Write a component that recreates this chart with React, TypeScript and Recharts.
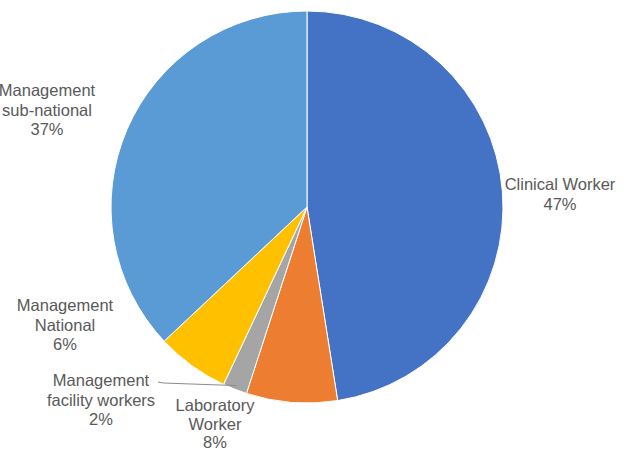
import { PieChart, Pie, Cell } from "recharts";

// slices clockwise from 12 o'clock
const categories = [
  "Clinical Worker",
  "Laboratory Worker",
  "Management facility workers",
  "Management National",
  "Management sub-national",
];
const shares = [47.5, 7.5, 2, 6, 37];
const labelLines = [
  ["Clinical Worker", "47%"],
  ["Laboratory", "Worker", "8%"],
  ["Management", "facility workers", "2%"],
  ["Management", "National", "6%"],
  ["Management", "sub-national", "37%"],
];

const COLORS = ["#4472C4", "#ED7D31", "#A5A5A5", "#FFC000", "#5B9BD5"];

// label block centre (first line) relative to pie centre
const LABEL_POS = [
  { dx: 253, dy: -23 },
  { dx: -92, dy: 198 },
  { dx: -206, dy: 173 },
  { dx: -242, dy: 98 },
  { dx: -260, dy: -117 },
];

const data = categories.map((name, i) => ({ name, value: shares[i] }));

const CX = 307;
const CY = 207;
const R = 196;
const LINE_H = 19.5;
const RAD = Math.PI / 180;

// eslint-disable-next-line @typescript-eslint/no-explicit-any
function renderLabel(props: any) {
  const { index, midAngle, cx, cy, outerRadius } = props;
  const pos = LABEL_POS[index];
  const x = cx + pos.dx;
  const y = cy + pos.dy;
  const lines = labelLines[index];
  const lh = index === 1 ? 18.5 : LINE_H;
  let leader = null;
  if (index === 2) {
    const ex = cx + outerRadius * 0.98 * Math.cos(-midAngle * RAD);
    const ey = cy + outerRadius * 0.98 * Math.sin(-midAngle * RAD);
    leader = (
      <polyline
        points={`${x + 57},${y + 2} ${x + 62},${y + 3} ${ex},${ey}`}
        fill="none"
        stroke="#8c8c8c"
        strokeWidth={1}
      />
    );
  }
  return (
    <g key={`lbl-${index}`}>
      {leader}
      <text
        x={x}
        y={y}
        textAnchor="middle"
        dominantBaseline="central"
        fill="#595959"
        fontSize={16.5}
        fontFamily="'Liberation Sans', Arial, sans-serif"
      >
        {lines.map((l, i) => (
          <tspan key={i} x={x} y={y + i * lh}>
            {l}
          </tspan>
        ))}
      </text>
    </g>
  );
}

export default function App() {
  return (
    <div style={{ position: "absolute", left: 0, top: 0, background: "#fff" }}>
      <PieChart width={636} height={451} margin={{ top: 0, right: 0, bottom: 0, left: 0 }}>
        <Pie
          data={data}
          dataKey="value"
          nameKey="name"
          cx={CX}
          cy={CY}
          outerRadius={R}
          startAngle={90}
          endAngle={-270}
          stroke="#ffffff"
          strokeWidth={1}
          label={renderLabel}
          labelLine={false}
          isAnimationActive={false}
        >
          {data.map((d, i) => (
            <Cell key={d.name} fill={COLORS[i]} />
          ))}
        </Pie>
      </PieChart>
    </div>
  );
}
